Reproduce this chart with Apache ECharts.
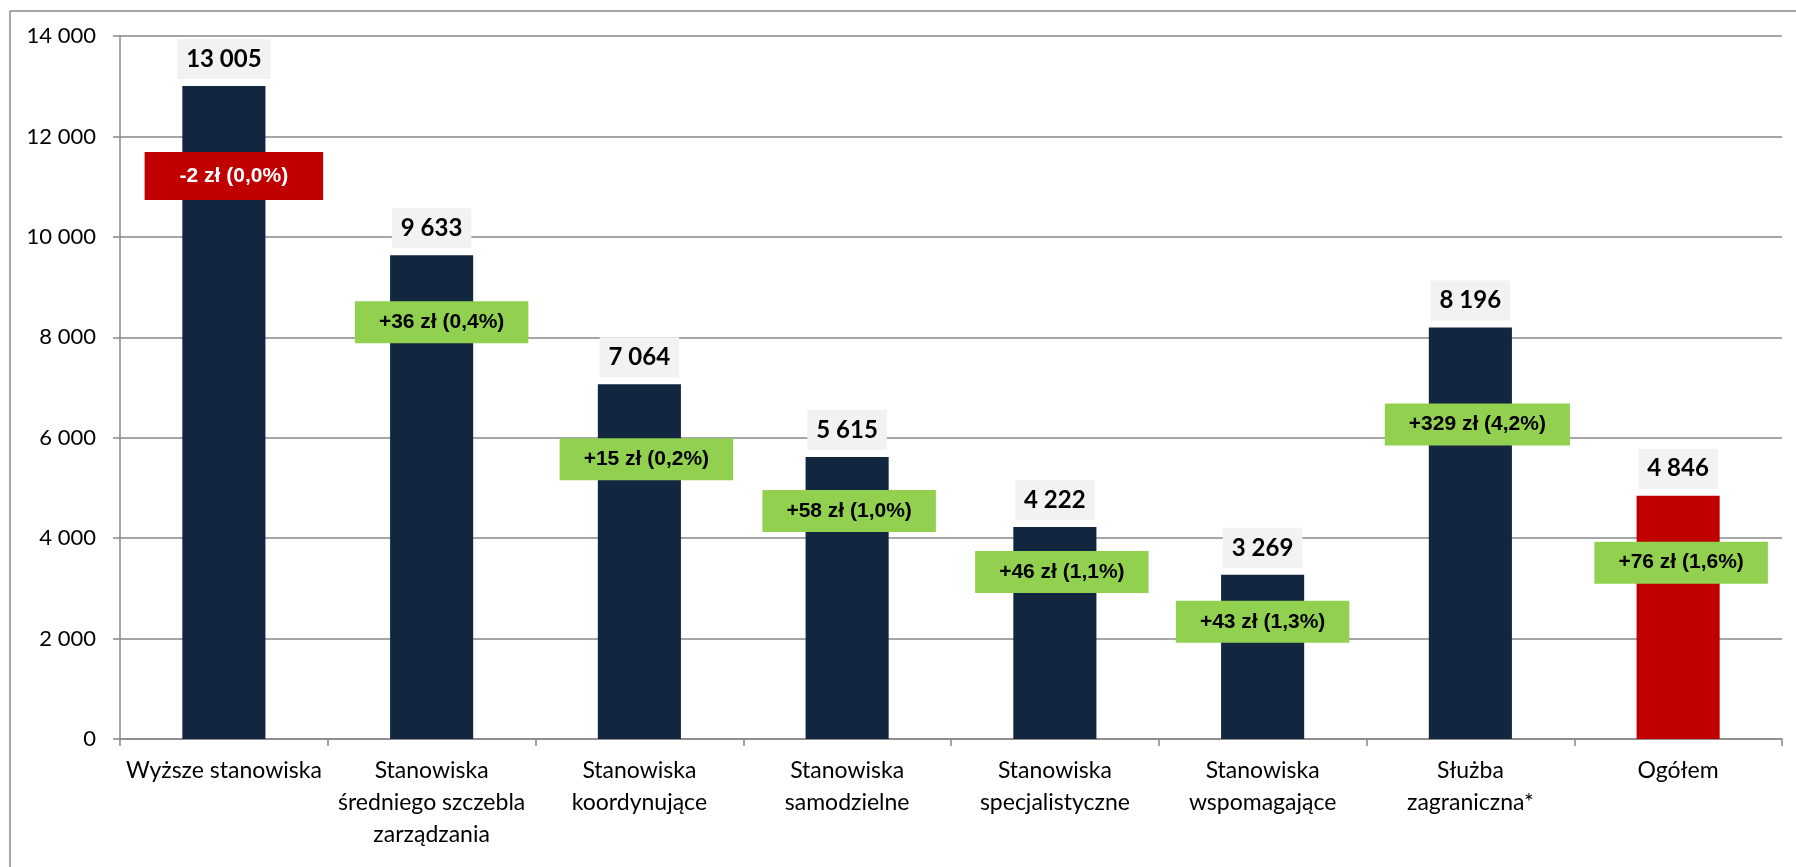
<!DOCTYPE html>
<html>
<head>
<meta charset="utf-8">
<script src="https://cdn.jsdelivr.net/npm/echarts@6/dist/echarts.min.js"></script>
<style>
  html, body { margin: 0; padding: 0; background: #fff; }
  #chart { width: 1796px; height: 867px; }
</style>
</head>
<body>
<div id="chart"></div>
<script>
// categories and values
const categories = [
  'Wyższe stanowiska',
  'Stanowiska\nśredniego szczebla\nzarządzania',
  'Stanowiska\nkoordynujące',
  'Stanowiska\nsamodzielne',
  'Stanowiska\nspecjalistyczne',
  'Stanowiska\nwspomagające',
  'Służba\nzagraniczna*',
  'Ogółem'
];
const salaries = [13005, 9633, 7064, 5615, 4222, 3269, 8196, 4846];
const changeZl = [-2, 36, 15, 58, 46, 43, 329, 76];
const changePct = [0.0, 0.4, 0.2, 1.0, 1.1, 1.3, 4.2, 1.6];

// where the change boxes sit: px below bar top, px right of bar centre
const boxDropPx = [90, 67, 75, 54, 45, 47, 97, 67];
const boxShiftPx = [10, 10, 7, 2, 7, 0, 7, 3];

const NAVY = '#12263f';
const RED = '#c00000';
const GREEN = '#92d050';
const GRID = '#888888';

const fmtThousands = v => String(v).replace(/\B(?=(\d{3})+(?!\d))/g, ' ');
const fmtChange = i =>
  (changeZl[i] >= 0 ? '+' : '') + changeZl[i] + ' zł (' + changePct[i].toFixed(1).replace('.', ',') + '%)';

const chart = echarts.init(document.getElementById('chart'));

const mainData = salaries.map((v, i) => {
  const neg = changeZl[i] < 0;
  return {
    value: v,
    itemStyle: { color: i === salaries.length - 1 ? RED : NAVY },
    label: {
      show: true,
      position: ['50%', boxDropPx[i]],
      align: 'center',
      verticalAlign: 'middle',
      offset: [boxShiftPx[i], 0],
      formatter: () => fmtChange(i),
      fontFamily: '"Liberation Sans", Arial, sans-serif',
      fontWeight: 'bold',
      fontSize: 21,
      lineHeight: 22,
      color: neg ? '#ffffff' : '#000000',
      backgroundColor: neg ? RED : GREEN,
      padding: neg ? [13, 35] : [10, 24]
    }
  };
});

chart.setOption({
  animation: false,
  grid: { left: 120, right: 14, top: 36, bottom: 128 },
  xAxis: {
    type: 'category',
    data: categories,
    axisLine: { lineStyle: { color: GRID, width: 1.5 } },
    axisTick: { show: true, length: 7, lineStyle: { color: GRID, width: 1.5 } },
    axisLabel: {
      interval: 0,
      margin: 16,
      color: '#000',
      fontFamily: 'Lato, "Open Sans", sans-serif',
      fontSize: 23,
      lineHeight: 32
    }
  },
  yAxis: {
    type: 'value',
    min: 0,
    max: 14000,
    interval: 2000,
    axisLine: { show: true, lineStyle: { color: GRID, width: 1.5 } },
    axisTick: { show: true, length: 7, lineStyle: { color: GRID, width: 1.5 } },
    splitLine: { lineStyle: { color: GRID, width: 1.5 } },
    axisLabel: {
      margin: 24,
      color: '#000',
      fontFamily: 'Lato, "Open Sans", sans-serif',
      fontSize: 22,
      formatter: fmtThousands
    }
  },
  series: [
    {
      type: 'bar',
      barWidth: '40%',
      data: mainData,
      z: 2
    },
    {
      // transparent twin carrying the salary labels above each bar
      type: 'bar',
      barWidth: '40%',
      barGap: '-100%',
      data: salaries,
      itemStyle: { color: 'rgba(0,0,0,0)' },
      label: {
        show: true,
        position: 'top',
        distance: 7,
        formatter: p => fmtThousands(p.value),
        fontFamily: 'Lato, "Open Sans", sans-serif',
        fontWeight: 'bold',
        fontSize: 24,
        lineHeight: 30,
        color: '#000',
        backgroundColor: '#f2f2f2',
        padding: [5, 9]
      },
      z: 1
    }
  ],
  graphic: [
    { type: 'line', shape: { x1: 10, y1: 11, x2: 1796, y2: 11 }, style: { stroke: GRID, lineWidth: 1.5 } },
    { type: 'line', shape: { x1: 10, y1: 11, x2: 10, y2: 867 }, style: { stroke: GRID, lineWidth: 1.5 } }
  ]
});
</script>
</body>
</html>
